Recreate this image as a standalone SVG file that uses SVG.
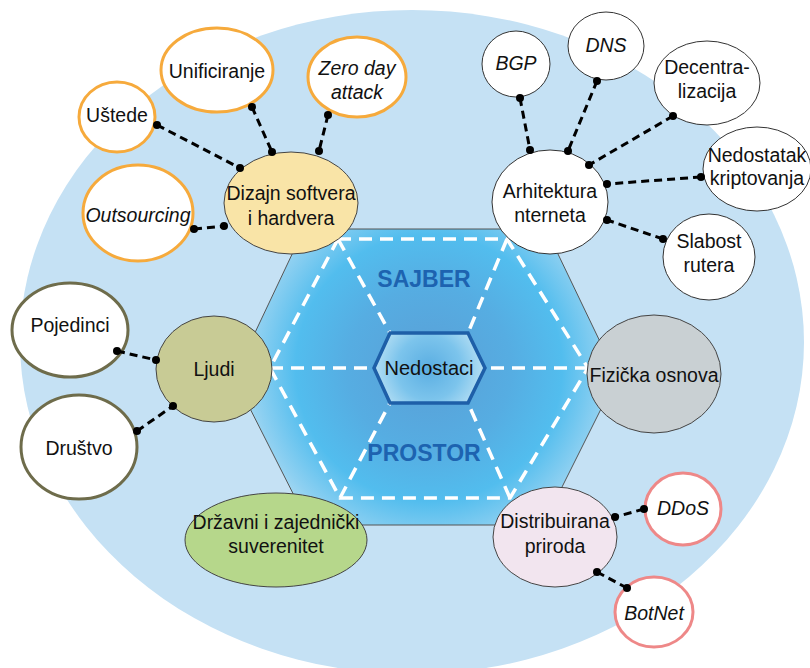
<svg xmlns="http://www.w3.org/2000/svg" width="810" height="668" viewBox="0 0 810 668">
<defs>
<radialGradient id="gOuter" gradientUnits="userSpaceOnUse" cx="429" cy="368" r="205">
<stop offset="0" stop-color="#5a9fd6"/>
<stop offset="0.4" stop-color="#56ade2"/>
<stop offset="0.65" stop-color="#52bdee"/>
<stop offset="0.85" stop-color="#8ed0f1"/>
<stop offset="1" stop-color="#c2e2f4"/>
</radialGradient>
<radialGradient id="gInner" gradientUnits="userSpaceOnUse" cx="429" cy="368" r="58">
<stop offset="0" stop-color="#5aaee2"/>
<stop offset="0.55" stop-color="#7cc4ec"/>
<stop offset="1" stop-color="#bce2f5"/>
</radialGradient>
</defs>
<style>
text{font-family:"Liberation Sans",Arial,sans-serif;font-size:19.5px;fill:#111;text-anchor:middle}
.it{font-style:italic}
.big{font-weight:bold;font-size:23px;fill:#1d63b0}
.n{stroke:#444;stroke-width:1}
.or{fill:#fff;stroke:#f6aa3c;stroke-width:3}
.ol{fill:#fff;stroke:#6e6c4b;stroke-width:3}
.pk{fill:#fff;stroke:#ee8888;stroke-width:3}
.wh{fill:#fff;stroke:#333;stroke-width:1}
.c line{stroke:#000;stroke-width:3;stroke-dasharray:8 5}
.c circle{fill:#000}
.wd{fill:none;stroke:#fff;stroke-width:3.5;stroke-dasharray:13 8}
</style>
<ellipse cx="412" cy="342" rx="392" ry="332" fill="#c5e1f4"/>
<g id="hexagon">
<polygon points="304,229 546,229 617,377 543,525 309,525 234,377" fill="url(#gOuter)" stroke="#555" stroke-width="1"/>
<polygon class="wd" points="338,239 507,239 588,368 510,498 340,498 270,368"/>
<line class="wd" x1="338" y1="239" x2="390" y2="333"/>
<line class="wd" x1="507" y1="239" x2="468" y2="333"/>
<line class="wd" x1="270" y1="368" x2="374" y2="368"/>
<line class="wd" x1="588" y1="368" x2="485" y2="368"/>
<line class="wd" x1="340" y1="498" x2="390" y2="403"/>
<line class="wd" x1="510" y1="498" x2="468" y2="403"/>
<text class="big" x="424" y="287">SAJBER</text>
<text class="big" x="424" y="461">PROSTOR</text>
</g>
<g id="nedostaci">
<polygon points="390,333 468,333 485,368 468,403 390,403 374,368" fill="url(#gInner)" stroke="#1e5fa8" stroke-width="3.5"/>
<text x="429" y="375" style="font-size:20px">Nedostaci</text>
</g>
<g id="dizajn"><ellipse class="n" cx="291" cy="203" rx="67" ry="51" fill="#f9e4a7"/><text x="291" y="200">Dizajn softvera</text><text x="291" y="225">i hardvera</text></g>
<g id="unificiranje"><ellipse class="or" cx="217" cy="70" rx="56" ry="42"/><text x="217" y="78">Unificiranje</text></g>
<g id="ustede"><ellipse class="or" cx="117" cy="117" rx="38" ry="35"/><text x="117" y="122">Uštede</text></g>
<g id="zeroday"><ellipse class="or" cx="357" cy="77" rx="49" ry="40"/><text class="it" x="357" y="75">Zero day</text><text class="it" x="357" y="99">attack</text></g>
<g id="outsourcing"><ellipse class="or" cx="138" cy="213" rx="55" ry="48"/><text class="it" x="138" y="222">Outsourcing</text></g>
<g id="arhitektura"><ellipse class="wh" cx="550" cy="202" rx="58" ry="52"/><text x="550" y="198">Arhitektura</text><text x="550" y="222">nterneta</text></g>
<g id="bgp"><ellipse class="wh" cx="516" cy="64" rx="34" ry="33"/><text class="it" x="516" y="70">BGP</text></g>
<g id="dns"><ellipse class="wh" cx="606" cy="46" rx="38" ry="34"/><text class="it" x="606" y="52">DNS</text></g>
<g id="decentralizacija"><ellipse class="wh" cx="707" cy="83" rx="53" ry="42"/><text x="707" y="74">Decentra-</text><text x="707" y="98">lizacija</text></g>
<g id="kriptovanje"><ellipse class="wh" cx="757" cy="169" rx="54" ry="42"/><text x="757" y="162">Nedostatak</text><text x="757" y="185">kriptovanja</text></g>
<g id="slabost"><ellipse class="wh" cx="709" cy="257" rx="46" ry="43"/><text x="709" y="248">Slabost</text><text x="709" y="272">rutera</text></g>
<g id="ljudi"><ellipse class="n" cx="214" cy="369" rx="58" ry="53" fill="#c8cb95"/><text x="214" y="376">Ljudi</text></g>
<g id="pojedinci"><ellipse class="ol" cx="70" cy="330" rx="58" ry="47"/><text x="70" y="332">Pojedinci</text></g>
<g id="drustvo"><ellipse class="ol" cx="79" cy="447" rx="58" ry="52"/><text x="79" y="455">Društvo</text></g>
<g id="fizicka"><ellipse class="n" cx="654" cy="374" rx="67" ry="59" fill="#c9d0d3"/><text x="654" y="382">Fizička osnova</text></g>
<g id="drzavni"><ellipse class="n" cx="276" cy="540" rx="91" ry="47" fill="#b6d78b"/><text x="276" y="529">Državni i zajednički</text><text x="276" y="553">suverenitet</text></g>
<g id="distribuirana"><ellipse class="n" cx="555" cy="537" rx="62" ry="50" fill="#f2e5ef"/><text x="555" y="528">Distribuirana</text><text x="555" y="553">priroda</text></g>
<g id="ddos"><ellipse class="pk" cx="683" cy="509" rx="38" ry="36"/><text class="it" x="683" y="515">DDoS</text></g>
<g id="botnet"><ellipse class="pk" cx="654" cy="612" rx="39" ry="35"/><text class="it" x="654" y="620">BotNet</text></g>
<g id="connectors" class="c">
<line x1="157" y1="125" x2="240" y2="168"/><circle cx="157" cy="125" r="4"/><circle cx="240" cy="168" r="4"/>
<line x1="252" y1="107" x2="272" y2="152"/><circle cx="252" cy="107" r="4"/><circle cx="272" cy="152" r="4"/>
<line x1="328" y1="115" x2="319" y2="151"/><circle cx="328" cy="115" r="4"/><circle cx="319" cy="151" r="4"/>
<line x1="194" y1="229" x2="224" y2="226"/><circle cx="194" cy="229" r="4"/><circle cx="224" cy="226" r="4"/>
<line x1="520" y1="98" x2="530" y2="150"/><circle cx="520" cy="98" r="4"/><circle cx="530" cy="150" r="4"/>
<line x1="597" y1="81" x2="568" y2="151"/><circle cx="597" cy="81" r="4"/><circle cx="568" cy="151" r="4"/>
<line x1="673" y1="116" x2="589" y2="165"/><circle cx="673" cy="116" r="4"/><circle cx="589" cy="165" r="4"/>
<line x1="701" y1="177" x2="607" y2="184"/><circle cx="701" cy="177" r="4"/><circle cx="607" cy="184" r="4"/>
<line x1="663" y1="239" x2="607" y2="220"/><circle cx="663" cy="239" r="4"/><circle cx="607" cy="220" r="4"/>
<line x1="117" y1="351" x2="156" y2="360"/><circle cx="117" cy="351" r="4"/><circle cx="156" cy="360" r="4"/>
<line x1="137" y1="431" x2="173" y2="406"/><circle cx="137" cy="431" r="4"/><circle cx="173" cy="406" r="4"/>
<line x1="644" y1="509" x2="615" y2="517"/><circle cx="644" cy="509" r="4"/><circle cx="615" cy="517" r="4"/>
<line x1="627" y1="588" x2="597" y2="572"/><circle cx="627" cy="588" r="4"/><circle cx="597" cy="572" r="4"/>
</g>
</svg>
